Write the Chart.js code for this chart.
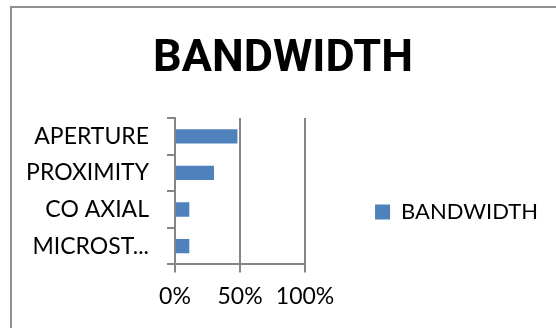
<!DOCTYPE html>
<html lang="en">
<head>
  <meta charset="UTF-8" />
  <title>Bandwidth</title>
  <script src="https://cdn.jsdelivr.net/npm/chart.js"></script>
  <style>
    html, body {
      margin: 0;
      padding: 0;
      background: #fff;
      overflow: hidden;
    }
    .frame {
      position: absolute;
      left: 10px;
      top: 6px;
      width: 600px;
      height: 400px;
      border-left: 2px solid #8f8f8f;
      border-top: 2px solid #8f8f8f;
      pointer-events: none;
    }
    #chart {
      position: absolute;
      left: 0;
      top: 0;
    }
  </style>
</head>
<body>
  <canvas id="chart" width="556" height="328"></canvas>
  <div class="frame"></div>

  <script>
    const categories = ["APERTURE", "PROXIMITY", "CO AXIAL", "MICROST..."];
    const bandwidth = [48, 30, 11, 11];
    const xTicks = [0, 50, 100];

    const axisGray = "#868686";
    const font = "Lato, 'Liberation Sans', sans-serif";

    const ctx = document.getElementById("chart").getContext("2d");
    const chart = new Chart(ctx, {
      type: "bar",
      data: {
        labels: categories,
        datasets: [{
          label: "BANDWIDTH",
          data: bandwidth,
          backgroundColor: "#4f81bd",
          borderWidth: 0,
          categoryPercentage: 1,
          barPercentage: 0.39
        }]
      },
      options: {
        indexAxis: "y",
        responsive: false,
        animation: false,
        devicePixelRatio: 1,
        layout: {
          padding: { top: 0, left: 18, right: 8, bottom: 8 }
        },
        plugins: {
          title: {
            display: true,
            text: "BANDWIDTH",
            color: "#000",
            font: { family: "Roboto, " + font, size: 45, weight: "bold" },
            padding: { top: 33, bottom: 31 }
          },
          legend: {
            position: "right",
            align: "center",
            fullSize: false,
            maxWidth: 300,
            // blank title only pushes the single entry down a little
            title: { display: true, text: "", padding: { top: 27, bottom: 0 } },
            labels: {
              boxWidth: 15,
              boxHeight: 15,
              padding: 10,
              color: "#000",
              font: { family: font, size: 22 }
            }
          },
          tooltip: { enabled: false }
        },
        scales: {
          x: {
            min: 0,
            max: 100,
            afterBuildTicks: axis => {
              axis.ticks = xTicks.map(v => ({ value: v }));
            },
            grid: {
              color: axisGray,
              lineWidth: 2,
              tickLength: 8,
              drawOnChartArea: true
            },
            border: { color: axisGray, width: 2 },
            ticks: {
              color: "#000",
              padding: 10,
              maxRotation: 0,
              font: { family: font, size: 23 },
              callback: v => v + "%"
            }
          },
          y: {
            grid: {
              color: axisGray,
              lineWidth: 2,
              tickLength: 8,
              drawOnChartArea: false
            },
            border: { color: axisGray, width: 2 },
            ticks: {
              color: "#000",
              padding: 18,
              font: { family: font, size: 23 }
            },
            afterFit: axis => { axis.width = 157; }
          },
          // empty space between the plot and the legend
          gap: {
            axis: "y",
            type: "linear",
            position: "right",
            min: 0,
            max: 1,
            grid: { display: false },
            border: { display: false },
            ticks: { display: false },
            afterFit: axis => { axis.width = 60; }
          }
        }
      }
    });
  </script>
</body>
</html>
